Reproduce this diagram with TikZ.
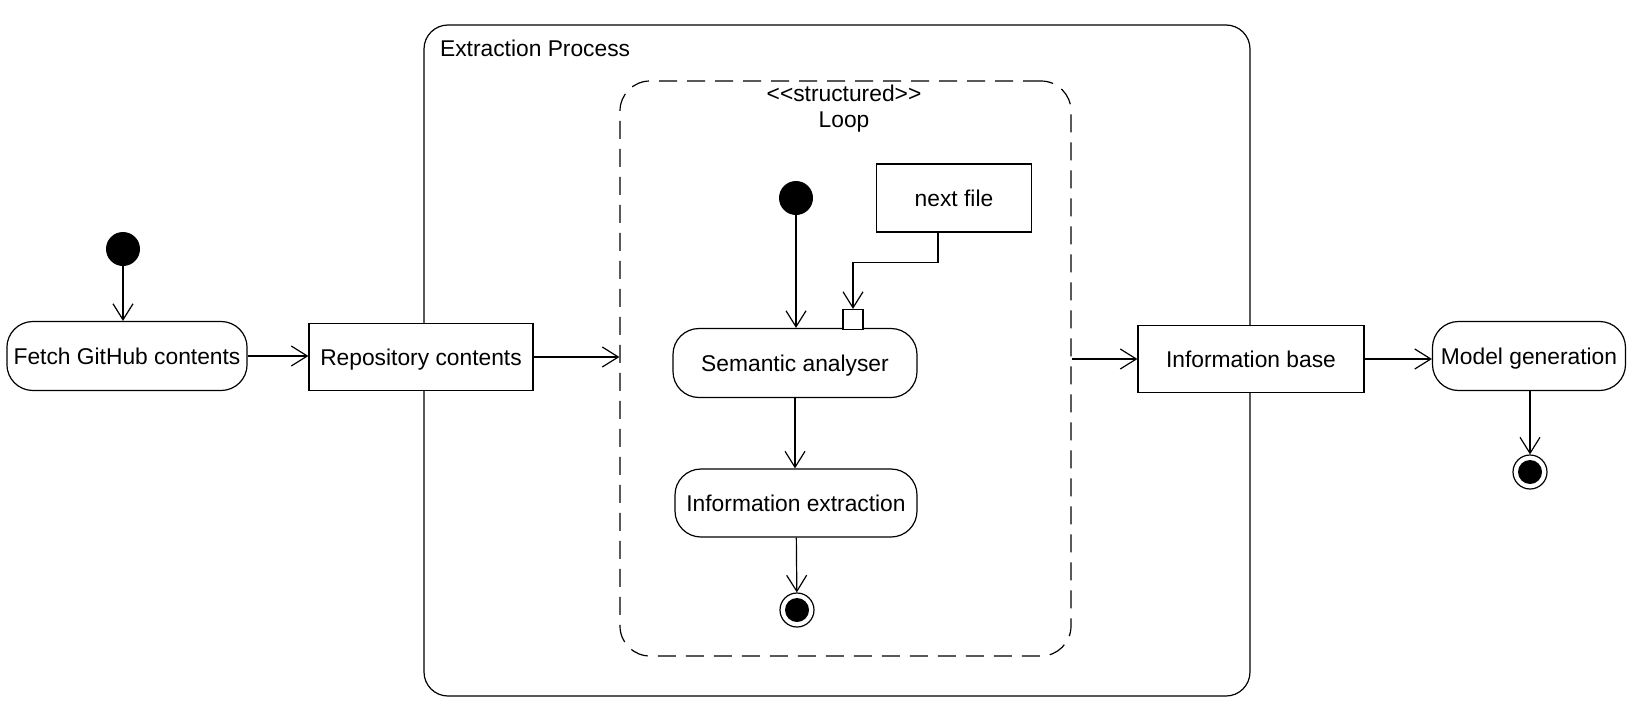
\documentclass[tikz,border=0pt]{standalone}
\usepackage{fontspec}
\setmainfont{Liberation Sans}[Ligatures=TeXOff]
\usetikzlibrary{arrows.meta}

\tikzset{
  action/.style={draw, rounded corners=13pt, minimum height=34.5pt, text depth=0pt, line width=0.6pt, fill=white},
  object/.style={draw, rectangle, minimum height=33.5pt, text depth=0pt, line width=0.6pt, fill=white},
  initial/.style={circle, fill=black, minimum size=17pt, inner sep=0pt},
  final/.style={circle, draw, line width=0.6pt, minimum size=17pt, inner sep=0pt,
    path picture={\fill (path picture bounding box.center) circle[radius=6pt];}},
  flow/.style={line width=0.6pt, -{Straight Barb[length=8pt,width=10pt]}},
}

\begin{document}
\begin{tikzpicture}[x=0.5pt, y=-0.5pt, font=\fontsize{11.4}{13}\selectfont]
	\useasboundingbox (0,0) rectangle (1633,712);
	
	% containers
	\node[draw, rounded corners=12pt, line width=0.6pt, minimum width=413pt, minimum height=335.5pt] (extract) at (837,360.5) {};
	\node[anchor=west] (extracttitle) at (433,48) {Extraction Process};
	\node[draw, dash pattern=on 9pt off 5pt, rounded corners=15pt, line width=0.6pt, minimum width=225.5pt, minimum height=287.5pt] (loop) at (845.5,368.5) {};
	\node[align=center] (looptitle) at (844,109) {<<structured>>\\Loop};
	
	% outer flow
	\node[initial] (start) at (123,249) {};
	\node[action, minimum width=120pt] (fetch) at (127,356) {Fetch GitHub contents};
	\node[object, minimum width=112pt] (repo) at (421,357) {Repository contents};
	\node[object, minimum width=113pt] (infobase) at (1251,359) {Information base};
	\node[action, minimum width=96.5pt, inner sep=2pt] (model) at (1529,356) {Model generation};
	\node[final] (stop) at (1530,472) {};
	
	% loop body
	\node[initial] (loopstart) at (796,198) {};
	\node[object, minimum width=77.5pt, minimum height=34pt] (nextfile) at (954,198) {next file};
	\node[action, minimum width=122pt] (semantic) at (795,363) {Semantic analyser};
	\node[draw, fill=white, line width=0.6pt, minimum size=10pt, inner sep=0pt] (pin) at (853,319.5) {};
	\node[action, minimum width=121pt, minimum height=34pt] (extraction) at (796,503) {Information extraction};
	\node[final] (loopstop) at (797,610) {};
	
	% outer connectors
	\draw[flow] (start) -- (start |- fetch.north);
	\draw[flow] (fetch.east) -- (fetch.east -| repo.west);
	\draw[flow] (repo.east) -- (repo.east -| loop.west);
	\draw[flow] (infobase.west -| loop.east) -- (infobase.west);
	\draw[flow] (infobase.east) -- (infobase.east -| model.west);
	\draw[flow] (stop |- model.south) -- (stop);
	% loop connectors
	\draw[flow] (loopstart) -- (loopstart |- semantic.north);
	\draw[flow] ([xshift=-8pt]nextfile.south) -- ++(0,30) -| (pin.north);
	\draw[flow] (semantic.south) -- (semantic.south |- extraction.north);
	\draw[flow] (extraction) -- (loopstop);
\end{tikzpicture}
\end{document}
